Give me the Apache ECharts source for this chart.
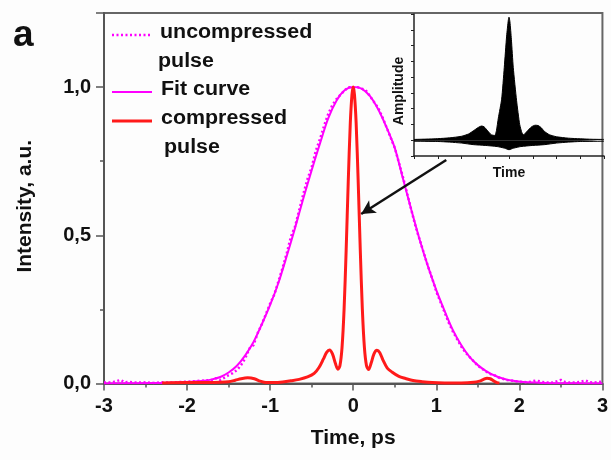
<!DOCTYPE html>
<html>
<head>
<meta charset="utf-8">
<title>Pulse compression</title>
<script src="https://cdn.jsdelivr.net/npm/echarts@6/dist/echarts.min.js"></script>
<style>
  html, body { margin: 0; padding: 0; background: #fdfdfd; }
  #chart { width: 611px; height: 460px; }
</style>
</head>
<body>
<div id="chart"></div>
<script>
// Gaussian fit of the uncompressed pulse (time in ps, normalised intensity)
const fitT = [-3,-2.6,-2.3,-2.1,-1.95,-1.8,-1.7,-1.6,-1.5,-1.4,-1.3,-1.2,-1.1,-1.0,-0.9,-0.8,-0.7,-0.6,-0.5,-0.4,-0.3,-0.2,-0.1,0,0.1,0.2,0.3,0.4,0.5,0.6,0.7,0.8,0.9,1.0,1.1,1.2,1.3,1.4,1.5,1.6,1.7,1.8,1.9,2.05,2.2,2.4,2.7,3];
const fitI = [0,0.001,0.002,0.004,0.006,0.009,0.014,0.022,0.037,0.06,0.095,0.14,0.2,0.265,0.34,0.43,0.525,0.625,0.72,0.81,0.895,0.955,0.99,1.0,0.995,0.97,0.925,0.865,0.795,0.69,0.585,0.485,0.395,0.315,0.245,0.18,0.13,0.09,0.062,0.042,0.027,0.017,0.01,0.005,0.003,0.001,0.0005,0];

// Measured uncompressed pulse
const rawT = [-3.0,-2.9,-2.8,-2.75,-2.7,-2.6,-2.5,-2.4,-2.3,-2.2,-2.1,-2.0,-1.9,-1.8,-1.7,-1.65,-1.6,-1.55,-1.5,-1.45,-1.4,-1.35,-1.3,-1.25,-1.2,-1.15,-1.1,-1.05,-1.0,-0.95,-0.9,-0.85,-0.8,-0.75,-0.7,-0.65,-0.6,-0.55,-0.5,-0.45,-0.4,-0.35,-0.3,-0.25,-0.2,-0.15,-0.1,-0.05,0,0.05,0.1,0.15,0.2,0.25,0.3,0.35,0.4,0.45,0.5,0.55,0.6,0.65,0.7,0.75,0.8,0.85,0.9,0.95,1.0,1.05,1.1,1.15,1.2,1.25,1.3,1.35,1.4,1.45,1.5,1.55,1.6,1.65,1.7,1.75,1.8,1.85,1.9,2.0,2.1,2.2,2.3,2.4,2.5,2.55,2.6,2.7,2.8,2.85,2.9,3.0];
const rawI = [0.003,0.004,0.012,0.004,0.005,0.003,0.004,0.002,0.004,0.003,0.005,0.006,0.008,0.01,0.012,0.018,0.012,0.02,0.028,0.035,0.045,0.062,0.085,0.118,0.13,0.17,0.2,0.235,0.27,0.3,0.345,0.39,0.44,0.495,0.53,0.585,0.64,0.69,0.73,0.785,0.825,0.87,0.91,0.94,0.96,0.975,0.99,1.0,0.995,1.0,0.995,0.99,0.97,0.95,0.93,0.9,0.865,0.83,0.795,0.745,0.695,0.64,0.585,0.53,0.485,0.44,0.395,0.355,0.31,0.275,0.24,0.205,0.175,0.15,0.125,0.105,0.09,0.075,0.06,0.05,0.04,0.032,0.028,0.02,0.016,0.012,0.01,0.006,0.004,0.01,0.004,0.003,0.012,0.005,0.003,0.004,0.01,0.004,0.003,0.006];

// Compressed pulse
const compT = [-2.3,-2.0,-1.75,-1.6,-1.5,-1.42,-1.35,-1.27,-1.19,-1.12,-1.05,-0.95,-0.85,-0.75,-0.65,-0.55,-0.47,-0.41,-0.36,-0.32,-0.285,-0.25,-0.215,-0.185,-0.16,-0.135,-0.11,-0.085,-0.06,-0.035,-0.015,0,0.015,0.035,0.06,0.085,0.11,0.135,0.16,0.185,0.215,0.25,0.285,0.32,0.36,0.41,0.47,0.55,0.63,0.72,0.83,0.95,1.1,1.3,1.45,1.52,1.57,1.61,1.65,1.69,1.73,1.76];
const compI = [0.002,0.003,0.003,0.004,0.006,0.011,0.016,0.019,0.016,0.008,0.003,0.003,0.005,0.009,0.014,0.022,0.034,0.055,0.082,0.105,0.113,0.1,0.068,0.048,0.06,0.12,0.25,0.45,0.68,0.88,0.975,1.0,0.975,0.88,0.68,0.45,0.25,0.12,0.06,0.047,0.068,0.1,0.112,0.104,0.078,0.052,0.038,0.024,0.017,0.01,0.006,0.003,0.002,0.002,0.004,0.008,0.014,0.018,0.016,0.009,0.003,0.002];

// Inset: envelope of the oscillating field amplitude (arbitrary units)
const insetUpX = [0,0.5,1.0,1.5,2.0,2.3,2.55,2.75,2.85,2.95,3.1,3.25,3.4,3.47,3.55,3.69,3.8,3.9,3.97,4.0,4.04,4.1,4.18,4.32,4.45,4.55,4.62,4.75,4.95,5.1,5.23,5.35,5.5,5.7,6.0,6.5,7.0,7.5,8];
const insetUpY = [0.05,0.07,0.1,0.15,0.25,0.4,0.65,0.85,0.9,0.85,0.6,0.35,0.3,0.6,1.4,2.6,4.6,6.6,7.6,7.8,7.5,6.4,4.6,2.5,1.0,0.45,0.35,0.55,0.85,0.95,0.93,0.8,0.55,0.35,0.22,0.13,0.09,0.06,0.05];
const insetLoX = [0,1.0,1.5,2.0,2.5,3.0,3.5,3.8,4.0,4.2,4.5,5.0,5.5,6.0,6.5,7.0,8];
const insetLoY = [-0.06,-0.08,-0.12,-0.18,-0.28,-0.33,-0.4,-0.5,-0.6,-0.5,-0.4,-0.33,-0.28,-0.18,-0.12,-0.08,-0.06];

// Arrow pointing from the inset to the compressed peak (data coordinates)
const arrowFrom = [1.12, 0.754];
const arrowTo = [0.096, 0.572];

const zip = (xs, ys) => xs.map((x, i) => [x, ys[i]]);

const FONT = "'Liberation Sans', Arial, Helvetica, sans-serif";
const MAGENTA = '#ff00ff';
const RED = '#ff1a1a';
const AXIS = '#555';

const chart = echarts.init(document.getElementById('chart'), null, { renderer: 'canvas' });

const legendText = (text, x, y) => ({
  type: 'text', x: x, y: y, scaleX: 1.07,
  style: { text: text, font: 'bold 20px ' + FONT, fill: '#111', verticalAlign: 'middle' }
});

chart.setOption({
  animation: false,
  backgroundColor: '#fdfdfd',
  grid: [
    { left: 104, right: 7, top: 13, bottom: 76.5, show: true, borderColor: '#666', borderWidth: 2 },
    { left: 414, right: 7, top: 14, bottom: 304 }
  ],
  xAxis: [
    {
      gridIndex: 0, type: 'value', min: -3, max: 3, interval: 1, position: 'bottom',
      axisLine: { onZero: false, lineStyle: { color: AXIS, width: 2 } },
      axisTick: { length: 7, lineStyle: { color: AXIS, width: 1.5 } },
      minorTick: { show: true, splitNumber: 2, length: 4, lineStyle: { color: AXIS, width: 1.5 } },
      splitLine: { show: false },
      axisLabel: { fontSize: 20, fontWeight: 'bold', color: '#111', margin: 13, fontFamily: FONT },
      name: 'Time, ps', nameLocation: 'middle', nameGap: 44,
      nameTextStyle: { fontSize: 21, fontWeight: 'bold', color: '#111', fontFamily: FONT }
    },
    {
      gridIndex: 1, type: 'value', min: 0, max: 8, interval: 1, position: 'bottom',
      axisLine: { onZero: false, lineStyle: { color: '#222', width: 1.5 } },
      axisTick: { length: 3, lineStyle: { color: '#222', width: 1 } },
      splitLine: { show: false },
      axisLabel: { show: false },
      name: 'Time', nameLocation: 'middle', nameGap: 10,
      nameTextStyle: { fontSize: 14, fontWeight: 'bold', color: '#111', fontFamily: FONT }
    }
  ],
  yAxis: [
    {
      gridIndex: 0, type: 'value', min: 0, max: 1.25, interval: 0.5, position: 'left',
      axisLine: { onZero: false, lineStyle: { color: AXIS, width: 2 } },
      axisTick: { length: 8, lineStyle: { color: AXIS, width: 1.5 } },
      splitLine: { show: false },
      axisLabel: {
        fontSize: 20, fontWeight: 'bold', color: '#111', margin: 13, fontFamily: FONT,
        formatter: v => (Math.abs(v * 2 - Math.round(v * 2)) < 1e-9 ? v.toFixed(1).replace('.', ',') : '')
      },
      name: 'Intensity, a.u.', nameLocation: 'middle', nameGap: 68,
      nameTextStyle: { fontSize: 21, fontWeight: 'bold', color: '#111', fontFamily: FONT, padding: [0, 16, 0, 0] }
    },
    {
      // minor ticks every 0.25 on the same left axis
      gridIndex: 0, type: 'value', min: 0, max: 1.25, interval: 0.25, position: 'left', offset: 0,
      axisLine: { show: false, onZero: false },
      axisTick: { length: 4, lineStyle: { color: AXIS, width: 1.5 } },
      axisLabel: { show: false },
      splitLine: { show: false }
    },
    {
      gridIndex: 1, type: 'value', min: -1, max: 8, interval: 1, position: 'left',
      axisLine: { onZero: false, lineStyle: { color: '#222', width: 1.5 } },
      axisTick: { length: 3, lineStyle: { color: '#222', width: 1 } },
      splitLine: { show: false },
      axisLabel: { show: false },
      name: 'Amplitude', nameLocation: 'middle', nameGap: 8,
      nameTextStyle: { fontSize: 14, fontWeight: 'bold', color: '#111', fontFamily: FONT, padding: [0, 12, 0, 0] }
    }
  ],
  series: [
    {
      name: 'Fit curve', type: 'line', xAxisIndex: 0, yAxisIndex: 0,
      data: zip(fitT, fitI), symbol: 'none', smooth: 0.3,
      lineStyle: { color: MAGENTA, width: 2 }
    },
    {
      name: 'uncompressed pulse', type: 'line', xAxisIndex: 0, yAxisIndex: 0,
      data: zip(rawT, rawI), symbol: 'none',
      lineStyle: { color: MAGENTA, width: 2.5, type: [2, 2.5] }
    },
    {
      name: 'compressed pulse', type: 'line', xAxisIndex: 0, yAxisIndex: 0,
      data: zip(compT, compI), symbol: 'none', smooth: 0.3,
      lineStyle: { color: RED, width: 3 },
      markLine: {
        silent: true, animation: false,
        symbol: ['none', 'arrow'], symbolSize: [11, 14],
        label: { show: false },
        lineStyle: { color: '#111', width: 2.5, type: 'solid' },
        emphasis: { disabled: true },
        data: [[{ coord: arrowFrom }, { coord: arrowTo }]]
      }
    },
    {
      name: 'envelope upper', type: 'line', xAxisIndex: 1, yAxisIndex: 2,
      data: zip(insetUpX, insetUpY), symbol: 'none', smooth: 0.2,
      lineStyle: { color: '#000', width: 1 },
      areaStyle: { color: '#000', opacity: 1, origin: 0 }
    },
    {
      name: 'envelope lower', type: 'line', xAxisIndex: 1, yAxisIndex: 2,
      data: zip(insetLoX, insetLoY), symbol: 'none', smooth: 0.2,
      lineStyle: { color: '#000', width: 1 },
      areaStyle: { color: '#000', opacity: 1, origin: 0 }
    }
  ],
  graphic: [
    {
      type: 'text', x: 13, y: 35.5,
      style: { text: 'a', font: 'bold 37px ' + FONT, fill: '#111', verticalAlign: 'middle' }
    },
    {
      type: 'group',
      children: [
        { type: 'line', shape: { x1: 112, y1: 35, x2: 152, y2: 35 },
          style: { stroke: MAGENTA, lineWidth: 2.5, lineDash: [2, 2.5] } },
        { type: 'line', shape: { x1: 112, y1: 92, x2: 152, y2: 92 },
          style: { stroke: MAGENTA, lineWidth: 2 } },
        { type: 'line', shape: { x1: 112, y1: 121, x2: 152, y2: 121 },
          style: { stroke: RED, lineWidth: 3 } },
        legendText('uncompressed', 160, 32.5),
        legendText('pulse', 158, 61),
        legendText('Fit curve', 161, 89.5),
        legendText('compressed', 161, 118.5),
        legendText('pulse', 164, 147)
      ]
    }
  ]
});
</script>
</body>
</html>
